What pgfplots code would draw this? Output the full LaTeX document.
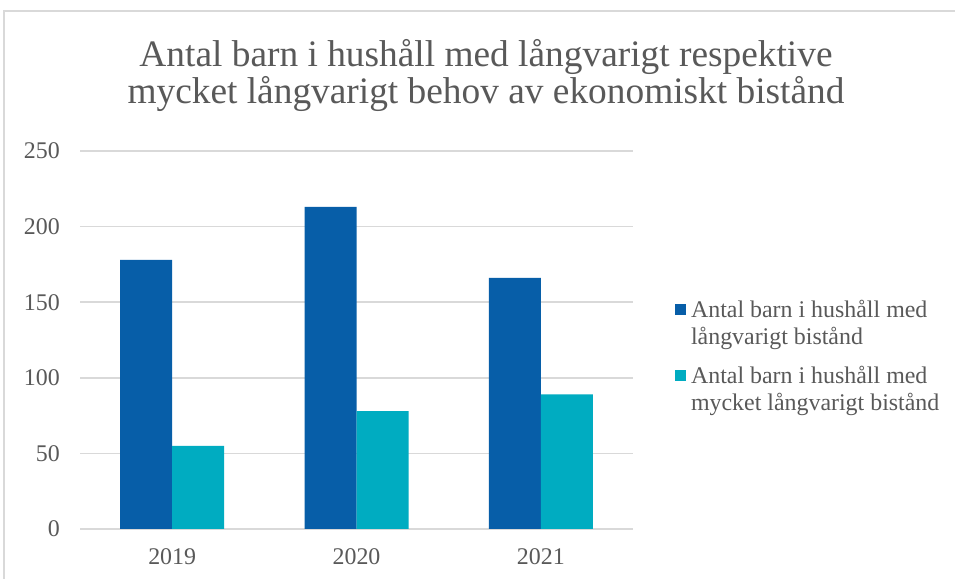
\documentclass[border=0pt]{standalone}
\usepackage{pgfplots}
\pgfplotsset{compat=1.18}
\usepackage{fontspec}
\setmainfont{Liberation Serif}
\definecolor{dblue}{HTML}{075EA8}
\definecolor{cyanb}{HTML}{00ACC1}
\definecolor{txt}{HTML}{595959}
\definecolor{gridc}{HTML}{D9D9D9}

\begin{document}
\begin{tikzpicture}[x=1bp,y=1bp]
\useasboundingbox (0,0) rectangle (955,579);
\fill[white] (0,0) rectangle (955,579);
\draw[gridc, line width=1.5bp] (4,-5) -- (4,568) -- (960,568);
\node[anchor=base, text=txt, font=\fontsize{37.5}{40}\selectfont, inner sep=0] at (486,512) {Antal barn i hushåll med långvarigt respektive};
\node[anchor=base, text=txt, font=\fontsize{37.5}{40}\selectfont, inner sep=0] at (486,475) {mycket långvarigt behov av ekonomiskt bistånd};
\begin{axis}[
  at={(80bp,50bp)}, anchor=south west,
  scale only axis, width=553bp, height=378bp,
  xmin=-0.5, xmax=2.5, ymin=0, ymax=250,
  ybar=0pt, bar width=52bp,
  xtick={0,1,2}, xticklabels={2019,2020,2021},
  ytick={0,50,100,150,200,250},
  /pgf/number format/assume math mode=true,
  separate axis lines,
  axis x line*=bottom,
  x axis line style={gridc, line width=1.5bp, -},
  axis y line*=left,
  y axis line style={draw=none},
  major tick length=0pt,
  tick style={draw=none},
  ymajorgrids,
  grid style={gridc, line width=1.5bp},
  ticklabel style={font=\fontsize{24}{26}\selectfont, text=txt, inner sep=0pt},
  yticklabel style={anchor=east, xshift=-20bp},
  xticklabel style={anchor=north, yshift=-19bp},
  legend image code/.code={\fill[#1,draw=none] (0bp,3bp) rectangle (11bp,14bp);},
  legend style={at={(axis description cs:1.076,0.6095)}, anchor=north west,
    draw=none, fill=none, inner sep=0pt, outer sep=0pt, row sep=43bp,
    cells={anchor=base west},
    /tikz/every even column/.append style={column sep=0pt},
    text=txt},
]
\addplot[fill=dblue, draw=none] coordinates {(0,178) (1,213) (2,166)};
\addlegendentry{\hspace*{3bp}\parbox[t]{260bp}{\fontsize{24}{26.5}\selectfont Antal barn i hushåll med\\långvarigt bistånd}}
\addplot[fill=cyanb, draw=none] coordinates {(0,55) (1,78) (2,89)};
\addlegendentry{\hspace*{3bp}\parbox[t]{260bp}{\fontsize{24}{26.5}\selectfont Antal barn i hushåll med\\mycket långvarigt bistånd}}
\end{axis}
\end{tikzpicture}
\end{document}
